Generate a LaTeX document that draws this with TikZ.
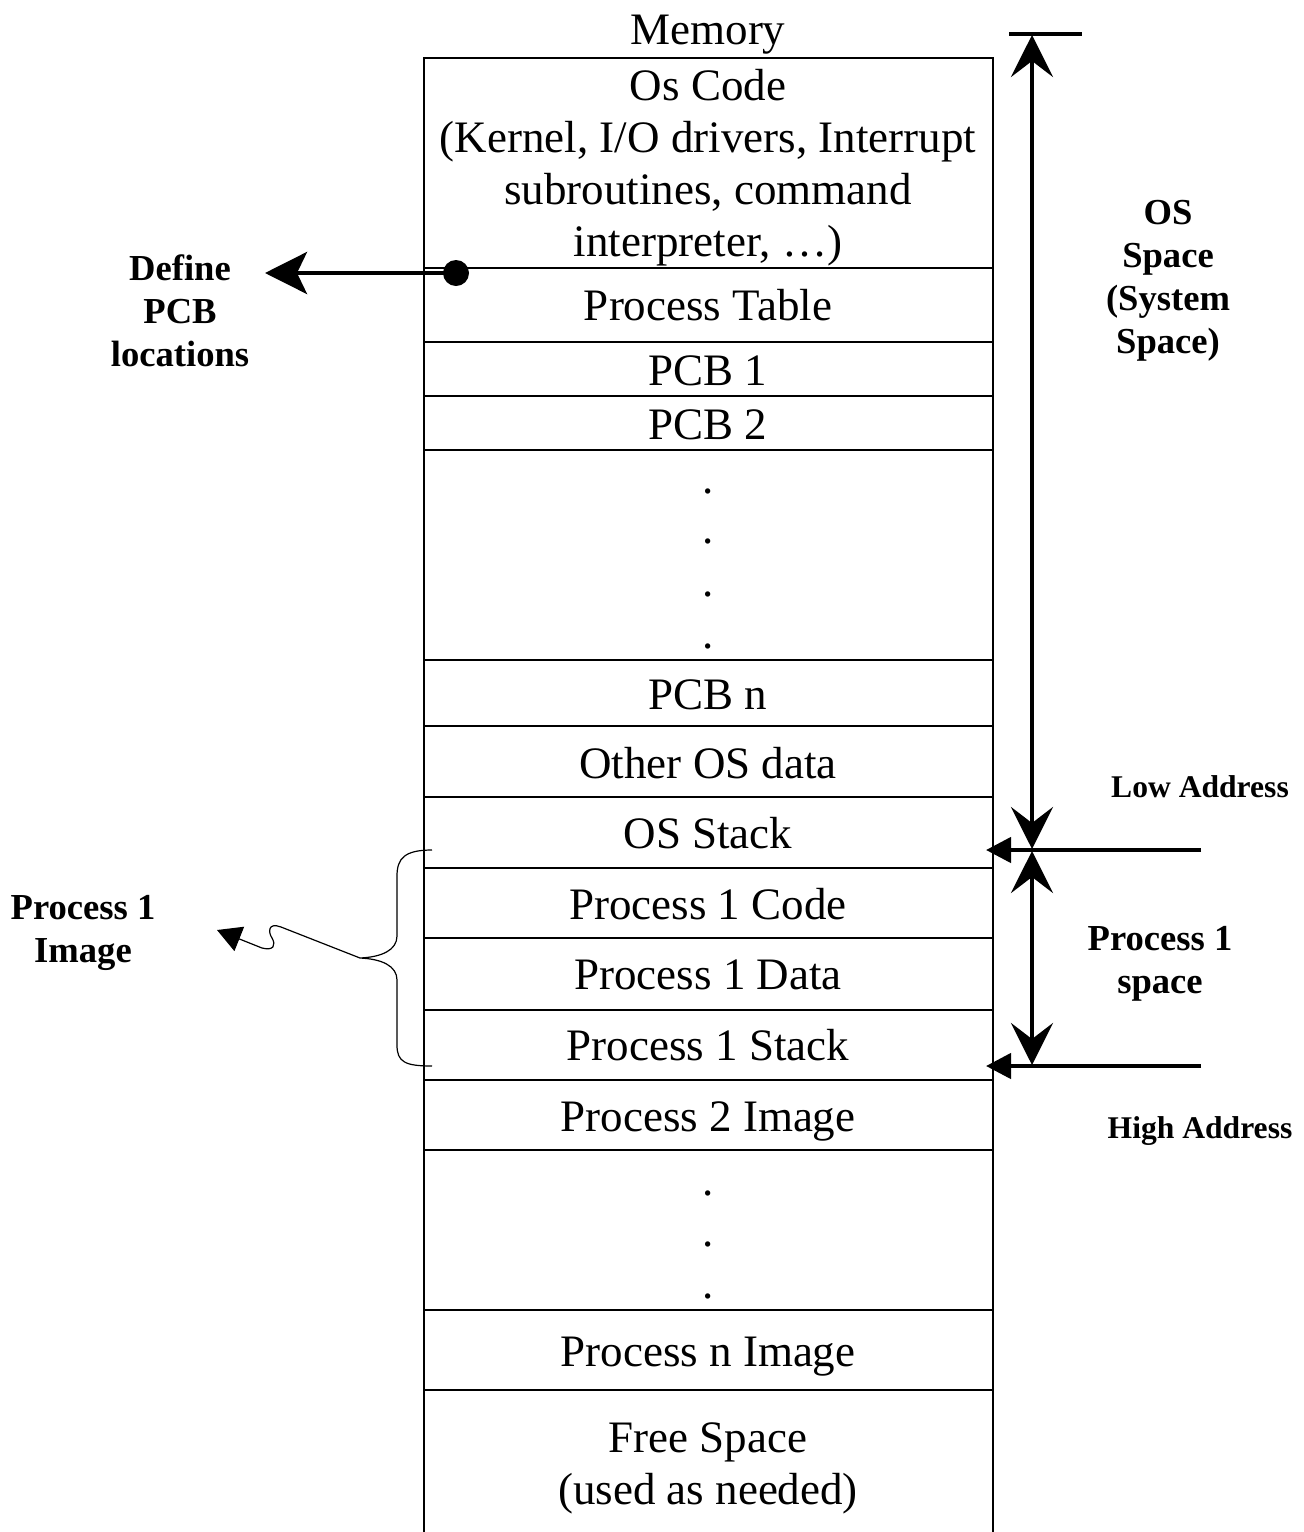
\documentclass[tikz,border=0pt]{standalone}
\usepackage{fontspec}
\setmainfont{Liberation Serif}
\usetikzlibrary{arrows.meta}
\newcommand\mainfnt{\fontsize{22.5}{26}\selectfont}
\newcommand\lblfnt{\fontsize{18.3}{21.5}\selectfont\bfseries}
\newcommand\addrfnt{\fontsize{15.8}{19}\selectfont\bfseries}
\begin{document}
\begin{tikzpicture}[x=0.5pt,y=-0.5pt,
  cell/.style={font=\mainfnt, inner sep=0pt, text height=14.9pt, text depth=0pt},
  multi/.style={font=\mainfnt, inner sep=0pt, align=center},
  lbl/.style={font=\lblfnt, inner sep=0pt, align=center},
  addr/.style={font=\addrfnt, inner sep=0pt, text height=10.7pt, text depth=0pt},
  dotnode/.style={font=\mainfnt, inner sep=0pt, anchor=base},
  grid/.style={line width=0.9pt},
  thickline/.style={line width=2.2pt},
  thinline/.style={line width=0.6pt},
  dblstealth/.style={{Stealth[length=21pt,width=21pt,inset=8pt]}-{Stealth[length=21pt,width=21pt,inset=8pt]}},
  pcbtip/.style={-{Stealth[length=21pt,width=21pt,inset=5pt]}},
  smalltri/.style={-{Triangle[length=12.5pt,width=12.5pt]}},
  imgtri/.style={-{Triangle[length=12pt,width=13pt]}}
]
\useasboundingbox (0,0) rectangle (1304,1532);

% memory column
\coordinate (mtl) at (424,58);
\coordinate (mtr) at (993,58);
\coordinate (mbl) at (424,1534);
\coordinate (mbr) at (993,1534);
\draw[grid] (mbl) -- (mtl) -- (mtr) -- (mbr);
\foreach \y in {268,342,396,450,660,726,797,868,938,1010,1080,1150,1310,1390}
  \draw[grid] (424,\y) -- (993,\y);

\node[cell] (mem) at (708,30) {Memory};
\node[multi] (oscode) at (708,168) {Os Code\\(Kernel, I/O drivers, Interrupt\\subroutines, command\\interpreter, …)};
\node[cell] (ptable) at (708,306) {Process Table};
\node[cell] (pcb1) at (708,371) {PCB 1};
\node[cell] (pcb2) at (708,425) {PCB 2};
\node[dotnode] (da1) at (708,493) {.};
\node[dotnode] (da2) at (708,543) {.};
\node[dotnode] (da3) at (708,596) {.};
\node[dotnode] (da4) at (708,648) {.};
\node[cell] (pcbn) at (708,695) {PCB n};
\node[cell] (other) at (708,764) {Other OS data};
\node[cell] (osstack) at (708,834) {OS Stack};
\node[cell] (p1code) at (708,905) {Process 1 Code};
\node[cell] (p1data) at (708,975) {Process 1 Data};
\node[cell] (p1stack) at (708,1046) {Process 1 Stack};
\node[cell] (p2img) at (708,1117) {Process 2 Image};
\node[dotnode] (db1) at (708,1195) {.};
\node[dotnode] (db2) at (708,1246) {.};
\node[dotnode] (db3) at (708,1298) {.};
\node[cell] (pnimg) at (708,1352) {Process n Image};
\node[multi] (free) at (708,1468) {Free Space\\(used as needed)};

% right side dimension arrows
\coordinate (topbarL) at (1009,34);
\coordinate (topbarR) at (1082,34);
\draw[thickline] (topbarL) -- (topbarR);
\coordinate (ostop) at (1032,35);
\coordinate (osbot) at (1032,849);
\draw[thickline, dblstealth] (osbot) -- (ostop);
\coordinate (p1top) at (1032,851);
\coordinate (p1bot) at (1032,1065);
\draw[thickline, dblstealth] (p1top) -- (p1bot);
\coordinate (lowR) at (1201,850);
\coordinate (lowL) at (986,850);
\draw[thickline, smalltri] (lowR) -- (lowL);
\coordinate (highR) at (1201,1066);
\coordinate (highL) at (986,1066);
\draw[thickline, smalltri] (highR) -- (highL);

\node[lbl] (osspace) at (1168,280.5) {OS\\Space\\(System\\Space)};
\node[lbl] (p1space) at (1160,963.5) {Process 1\\space};
\node[addr] (lowaddr) at (1200,787) {Low Address};
\node[addr] (highaddr) at (1200,1128) {High Address};

% define PCB locations
\node[circle, fill, inner sep=0pt, minimum size=13pt] (pcbdot) at (456,273) {};
\coordinate (pcbend) at (265,273);
\draw[thickline, pcbtip] (pcbdot.center) -- (pcbend);
\node[lbl] (definepcb) at (180,311) {Define\\PCB\\locations};

% process 1 image brace
\coordinate (brtop) at (432,850);
\coordinate (brtip) at (360,958);
\coordinate (brbot) at (432,1066);
\draw[thinline] (brtop) .. controls (405,850) and (397,858) .. (397,876)
  -- (397,936) .. controls (397,950) and (382,957) .. (brtip)
  .. controls (382,959) and (397,966) .. (397,980)
  -- (397,1045) .. controls (397,1062) and (405,1066) .. (brbot);
\coordinate (sqend) at (217,930);
\draw[thinline, imgtri] (brtip) -- (281,927) .. controls (268,922) and (268,932) .. (272,938)
  .. controls (276,945) and (274,951) .. (262,948) -- (sqend);
\node[lbl] (p1image) at (83,933) {Process 1\\Image};
\end{tikzpicture}
\end{document}
